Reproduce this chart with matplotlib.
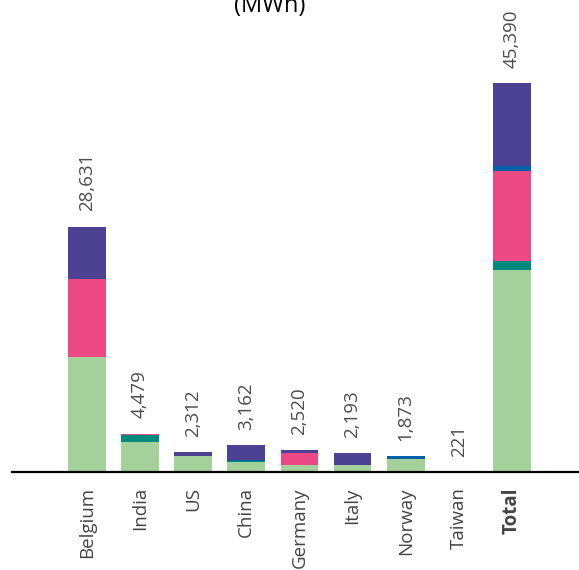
import matplotlib.pyplot as plt

plt.rcParams['font.family'] = ['Open Sans', 'DejaVu Sans']

countries = ["Belgium", "India", "US", "China", "Germany", "Italy", "Norway", "Taiwan", "Total"]
totals = [28631, 4479, 2312, 3162, 2520, 2193, 1873, 221, 45390]

# stacked segments, bottom to top (MWh); Taiwan is too small to show
green = [13450, 3500, 1870, 1150, 850, 870, 1500, 0, 23570]
teal = [0, 780, 0, 100, 0, 0, 0, 0, 1050]
pink = [9110, 199, 0, 0, 1320, 0, 0, 0, 10500]
blue = [0, 0, 0, 200, 0, 0, 373, 0, 620]
purple = [6071, 0, 442, 1712, 350, 1323, 0, 0, 9650]

series = [green, teal, pink, blue, purple]
colors = ["#a4d09c", "#008b7d", "#ec4883", "#0061a8", "#4c4193"]

fig = plt.figure(figsize=(5.79, 5.70), dpi=100)
ax = fig.add_axes([0.0207, 0.172, 0.9793, 0.828])

x = list(range(len(countries)))
bottom = [0] * len(countries)
for vals, col in zip(series, colors):
    ax.bar(x, vals, width=0.71, bottom=bottom, color=col, linewidth=0)
    bottom = [b + v for b, v in zip(bottom, vals)]

# value labels above each bar
for i, t in enumerate(totals):
    ax.annotate(f"{t:,}", (i, bottom[i]), xytext=(0, 11), textcoords="offset points",
                rotation=90, ha="center", va="bottom", fontsize=13.5, color="#4d4d4d")

ax.set_xlim(-1.41, 9.26)
ax.set_ylim(0, 55075)
ax.set_xticks(x)
ax.set_xticklabels(countries, rotation=90, fontsize=13.5, color="#444444")
ax.get_xticklabels()[-1].set_fontweight("bold")
ax.tick_params(axis="x", length=0, pad=11)
ax.set_yticks([])
for s in ["top", "right", "left"]:
    ax.spines[s].set_visible(False)
ax.spines["bottom"].set_linewidth(1.6)
ax.spines["bottom"].set_color("black")

fig.text(0.466, 0.969, "(MWh)", ha="center", va="bottom", fontsize=17, color="black")

fig.savefig("out.png", dpi=100)
